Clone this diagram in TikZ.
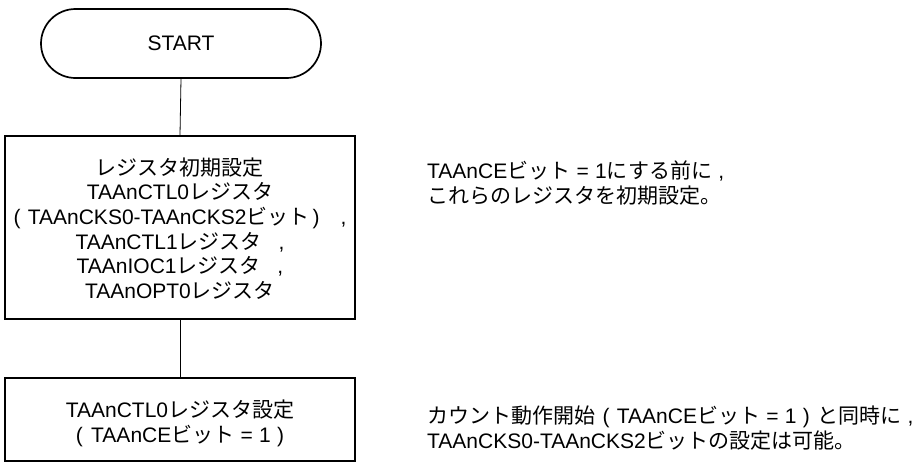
\documentclass[tikz,border=0pt]{standalone}
\usepackage{fontspec}
\setmainfont{Liberation Sans}
\newfontfamily\jpfont{Noto Sans CJK JP}
\newcommand\jtxt[1]{{\jpfont #1}}
\newcommand\eqsign{\hspace{0.3em}=\hspace{0.3em}}
\begin{document}
\begin{tikzpicture}[x=1pt,y=-1pt,
  txt/.style={inner sep=0pt, font=\fontsize{21}{24.7}\selectfont},
  shapebox/.style={draw, line width=1.7pt, rectangle, inner sep=0pt},
  conn/.style={draw, line width=0.8pt}]
\useasboundingbox (0,0) rectangle (924,461);
% terminal
\node[shapebox, rounded corners=34.5pt, minimum width=280pt, minimum height=69pt, txt] (start) at (181,43.5) {START};
% box 1
\node[shapebox, minimum width=350pt, minimum height=183pt] (box1) at (180,227.5) {};
\node[txt, align=center] (box1txt) at (180,228.5) {%
\jtxt{レジスタ初期設定}\\
TAAnCTL0\jtxt{レジスタ}\\
(\hspace{0.35em}TAAnCKS0-TAAnCKS2\jtxt{ビット}\hspace{0.15em})\hspace{1.0em},\\
TAAnCTL1\jtxt{レジスタ}\hspace{0.8em},\\
TAAnIOC1\jtxt{レジスタ}\hspace{0.8em},\\
TAAnOPT0\jtxt{レジスタ}};
% box 2
\node[shapebox, minimum width=350pt, minimum height=83pt] (box2) at (180,419.5) {};
\node[txt, align=center] (box2txt) at (180,423) {%
TAAnCTL0\jtxt{レジスタ設定}\\
(\hspace{0.4em}TAAnCE\jtxt{ビット}\eqsign 1\hspace{0.3em})};
% connectors
\draw[conn] (start.south) -- (box1.north);
\draw[conn] (box1.south) -- (box2.north);
% notes
\node[txt, align=left, anchor=west] (note1) at (427,183) {%
TAAnCE\jtxt{ビット}\eqsign 1\jtxt{にする前に}\hspace{0.3em},\\
\jtxt{これらのレジスタを初期設定。}};
\node[txt, align=left, anchor=west] (note2) at (427,428) {%
\jtxt{カウント動作開始}\hspace{0.35em}(\hspace{0.35em}TAAnCE\jtxt{ビット}\eqsign 1\hspace{0.3em})\hspace{0.35em}\jtxt{と同時に}\hspace{0.3em},\\
TAAnCKS0-TAAnCKS2\jtxt{ビットの設定は可能。}};
\end{tikzpicture}
\end{document}
